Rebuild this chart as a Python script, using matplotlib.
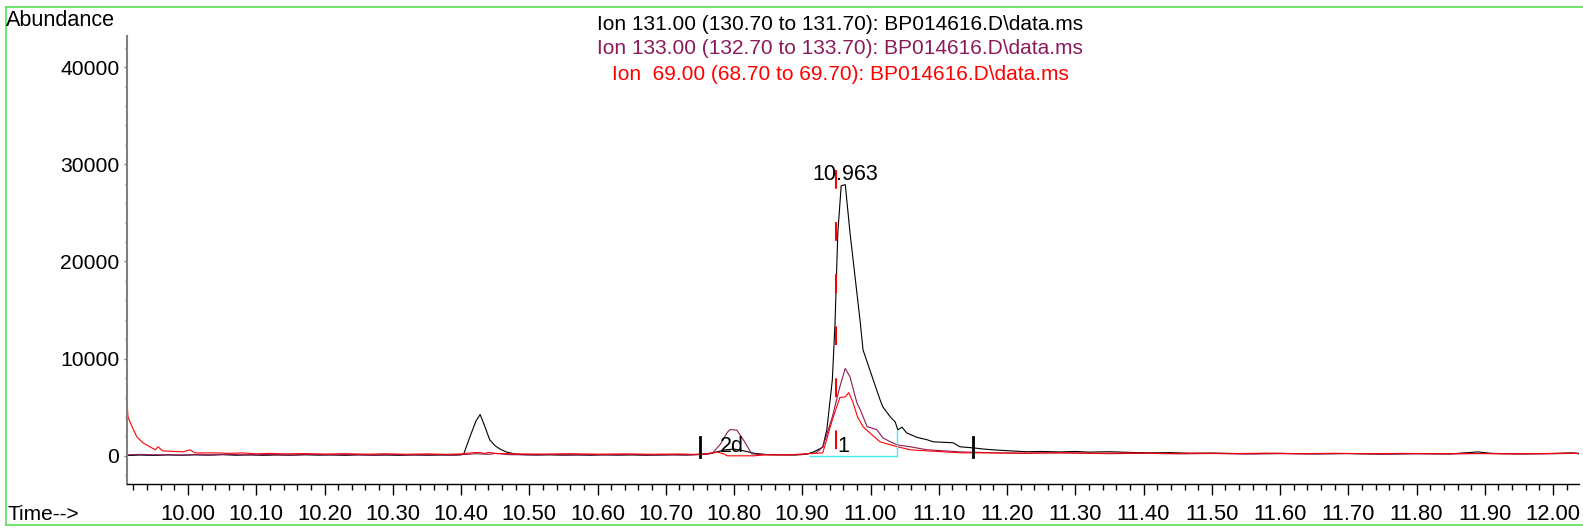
import matplotlib
matplotlib.use("Agg")
import matplotlib.pyplot as plt
from matplotlib.lines import Line2D
from matplotlib.ticker import MultipleLocator, FormatStrFormatter

plt.rcParams['font.family'] = ['Liberation Sans', 'DejaVu Sans']

# ion 131.00 (black)
t131 = [9.911, 9.93, 9.95, 9.97, 9.99, 10.01, 10.03, 10.05, 10.07, 10.09, 10.11, 10.13,
        10.15, 10.17, 10.19, 10.21, 10.23, 10.25, 10.27, 10.29, 10.31, 10.33, 10.35, 10.37,
        10.39, 10.400, 10.404, 10.413, 10.422, 10.428, 10.435, 10.442, 10.450, 10.457, 10.466,
        10.478, 10.49, 10.51, 10.53, 10.55, 10.57, 10.59, 10.61, 10.63, 10.65, 10.67, 10.69,
        10.71, 10.73, 10.75, 10.77, 10.785, 10.80, 10.815, 10.83, 10.85, 10.87, 10.89, 10.905,
        10.915, 10.925, 10.930, 10.936, 10.944, 10.948, 10.952, 10.957, 10.963, 10.970, 10.985,
        10.989, 11.004, 11.014, 11.018, 11.029, 11.036, 11.040, 11.046, 11.053, 11.068, 11.083,
        11.092, 11.105, 11.121, 11.131, 11.150, 11.165, 11.179, 11.204, 11.229, 11.25, 11.278,
        11.30, 11.32, 11.35, 11.38, 11.41, 11.44, 11.47, 11.50, 11.55, 11.60, 11.65, 11.70,
        11.75, 11.80, 11.85, 11.89, 11.91, 11.95, 12.00, 12.03, 12.038]
a131 = [30, 80, 40, 90, 60, 100, 70, 120, 60, 100, 50, 90,
        60, 110, 70, 90, 50, 100, 60, 80, 50, 90, 60, 80,
        70, 100, 200, 1950, 3600, 4250, 3000, 1650, 1030, 700, 400,
        200, 120, 80, 100, 70, 90, 60, 100, 70, 90, 60, 80,
        100, 80, 150, 300, 600, 700, 500, 250, 120, 100, 80, 150,
        350, 700, 900, 2700, 7800, 13700, 22900, 27800, 27900, 22900, 13700,
        10900, 7800, 5760, 5040, 4000, 3500, 2670, 2950, 2360, 1900, 1650,
        1440, 1400, 1340, 930, 820, 700, 620, 510, 420, 450, 400,
        450, 380, 420, 350, 300, 330, 250, 280, 220, 250, 200, 230,
        180, 220, 200, 400, 250, 200, 230, 300, 200]

# ion 133.00 (purple)
t133 = [9.911, 9.93, 9.95, 9.97, 9.99, 10.01, 10.03, 10.06, 10.09, 10.12, 10.15, 10.18,
        10.21, 10.24, 10.27, 10.30, 10.33, 10.36, 10.39, 10.41, 10.42, 10.44, 10.45, 10.47,
        10.50, 10.53, 10.56, 10.59, 10.62, 10.65, 10.68, 10.71, 10.74, 10.76, 10.768, 10.78,
        10.79, 10.794, 10.804, 10.815, 10.826, 10.84, 10.87, 10.90, 10.92, 10.930, 10.944,
        10.955, 10.963, 10.970, 10.980, 10.985, 10.995, 11.009, 11.018, 11.029, 11.039, 11.058,
        11.083, 11.131, 11.179, 11.22, 11.26, 11.30, 11.35, 11.40, 11.45, 11.50, 11.55, 11.60,
        11.65, 11.70, 11.75, 11.80, 11.85, 11.90, 11.95, 12.00, 12.038]
a133 = [100, 150, 100, 120, 80, 130, 100, 150, 90, 130, 80, 140,
        100, 120, 80, 130, 90, 120, 100, 150, 220, 150, 250, 120,
        100, 130, 90, 120, 100, 140, 90, 120, 100, 150, 250, 1200,
        2400, 2700, 2650, 1500, 200, 120, 100, 150, 300, 900, 4000,
        7100, 9000, 8100, 5450, 4730, 3000, 2700, 1850, 1440, 1130, 930,
        620, 410, 310, 250, 300, 280, 220, 260, 200, 240, 180, 220,
        200, 240, 180, 220, 190, 250, 200, 220, 260]

# ion 69.00 (red)
t69 = [9.911, 9.912, 9.918, 9.925, 9.934, 9.944, 9.952, 9.956, 9.963, 9.993, 10.003, 10.010,
       10.042, 10.06, 10.08, 10.10, 10.12, 10.14, 10.17, 10.20, 10.23, 10.26, 10.29, 10.32,
       10.35, 10.38, 10.40, 10.415, 10.425, 10.435, 10.44, 10.45, 10.48, 10.52, 10.56, 10.60,
       10.64, 10.68, 10.72, 10.74, 10.76, 10.775, 10.785, 10.79, 10.83, 10.845, 10.88, 10.905,
       10.930, 10.944, 10.955, 10.963, 10.968, 10.974, 10.981, 10.989, 11.002, 11.014, 11.029,
       11.040, 11.058, 11.083, 11.131, 11.18, 11.23, 11.28, 11.33, 11.38, 11.43, 11.48, 11.53,
       11.58, 11.63, 11.68, 11.73, 11.78, 11.83, 11.88, 11.93, 11.98, 12.02, 12.038]
a69 = [5200, 4000, 3000, 1950, 1340, 930, 620, 930, 510, 410, 620, 300,
       300, 250, 300, 200, 250, 200, 230, 180, 220, 170, 210, 160,
       200, 150, 200, 300, 350, 250, 350, 250, 200, 180, 220, 170,
       200, 160, 190, 150, 200, 400, 200, 0, 0, 100, 100, 200,
       300, 3700, 6000, 6070, 6500, 5550, 4000, 3000, 2160, 1440, 1130,
       930, 620, 510, 310, 300, 280, 320, 260, 300, 240, 280, 230,
       270, 220, 260, 210, 250, 220, 240, 200, 230, 280, 250]

titles = ["Ion 131.00 (130.70 to 131.70): BP014616.D\\data.ms",
          "Ion 133.00 (132.70 to 133.70): BP014616.D\\data.ms",
          "Ion  69.00 (68.70 to 69.70): BP014616.D\\data.ms"]
colors = ['black', '#8B1A5A', '#FF0000']

peak_rt = 10.963
bounds = [10.75, 11.15]          # integration markers
base_t = [10.911, 11.039]        # cyan baseline

fig = plt.figure(figsize=(15.83, 5.29), dpi=100)
ax = fig.add_axes([127/1583, 1 - 484/529, (1579 - 127)/1583, (484 - 36)/529])

ax.plot(t131, a131, color=colors[0], lw=0.8)
ax.plot(t133, a133, color=colors[1], lw=0.8)
ax.plot(t69, a69, color=colors[2], lw=0.8)

# integration baseline
ax.plot([base_t[0], base_t[1], base_t[1]], [-30, -30, 2670], color='#40EEEE', lw=1.0)
# retention time marker
ax.plot([10.949, 10.949], [29400, 620], color='#FF0000', lw=1.5,
        linestyle=(0, (9, 16)))
for b in bounds:
    ax.plot([b, b], [-100, 1950], color='black', lw=2)

ax.text(peak_rt, 28950, "10.963", ha='center', va='center', fontsize=15.5)
ax.text(10.797, 1000, "2d", ha='center', va='center', fontsize=15.5)
ax.text(10.960, 1000, "1", ha='center', va='center', fontsize=15.5)

ax.set_xlim(9.9106, 12.038)
ax.set_ylim(-2900, 43200)
ax.xaxis.set_major_locator(MultipleLocator(0.1))
ax.xaxis.set_minor_locator(MultipleLocator(0.02))
ax.xaxis.set_major_formatter(FormatStrFormatter('%.2f'))
ax.yaxis.set_major_locator(MultipleLocator(10000))
ax.yaxis.set_minor_locator(MultipleLocator(2000))

for s in ['top', 'right']:
    ax.spines[s].set_visible(False)
ax.spines['left'].set_color('#808080')
ax.spines['left'].set_linewidth(1.5)
ax.spines['bottom'].set_linewidth(1.0)
ax.tick_params(axis='x', which='major', length=8, width=1, labelsize=15.8, pad=6.5)
ax.tick_params(axis='x', which='minor', length=4.5, width=1)
ax.tick_params(axis='y', which='major', length=2.5, width=1, labelsize=15.2, pad=3,
               color='#808080')
ax.tick_params(axis='y', which='minor', length=1.5, width=1, color='#808080')

for i, (txt, c) in enumerate(zip(titles, colors)):
    fig.text(840/1583, 1 - (24 + 25*i)/529, txt, color=c, ha='center', va='center',
             fontsize=15)
fig.text(6/1583, 1 - 21/529, "Abundance", ha='left', va='center', fontsize=15.6)
fig.text(8/1583, 1 - 514/529, "Time-->", ha='left', va='center', fontsize=15)

# green frame
g = '#55E055'
fig.add_artist(Line2D([6/1583, 1.0], [1 - 7/529, 1 - 7/529], color=g, lw=1.2,
                      transform=fig.transFigure))
fig.add_artist(Line2D([6/1583, 1.0], [1 - 525/529, 1 - 525/529], color=g, lw=1.2,
                      transform=fig.transFigure))
fig.add_artist(Line2D([6/1583, 6/1583], [1 - 7/529, 1 - 525/529], color=g, lw=1.2,
                      transform=fig.transFigure))

fig.savefig("out.png", dpi=100)
